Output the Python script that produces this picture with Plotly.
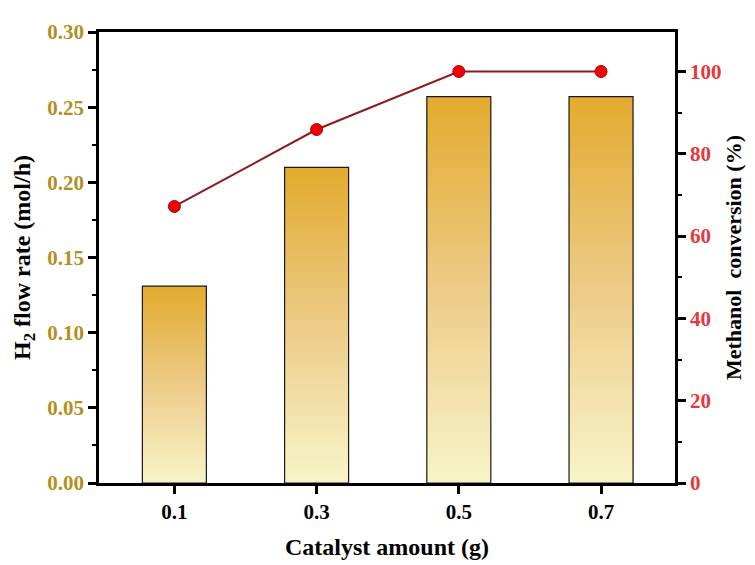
import plotly.graph_objects as go

categories = ["0.1", "0.3", "0.5", "0.7"]
h2_flow = [0.131, 0.210, 0.257, 0.257]
conversion = [67.2, 85.9, 100.0, 100.0]

left_ticks = [0.00, 0.05, 0.10, 0.15, 0.20, 0.25, 0.30]
right_ticks = [0, 20, 40, 60, 80, 100]

FONT = "Liberation Serif"
GOLD = "#B39021"
RED = "#E8383D"

# gradient stops from bar top (t=0) to bar bottom (t=1)
stops = [(0.0, (227, 171, 47)), (0.5, (237, 203, 136)), (1.0, (248, 244, 200))]


def grad_color(t):
    for (t0, c0), (t1, c1) in zip(stops[:-1], stops[1:]):
        if t0 <= t <= t1:
            f = (t - t0) / (t1 - t0)
            c = [round(a + (b - a) * f) for a, b in zip(c0, c1)]
            return "rgb(%d,%d,%d)" % tuple(c)
    return "rgb(%d,%d,%d)" % stops[-1][1]


fig = go.Figure()
N = 60
BW = 0.45
for k in range(N):
    frac = 1 - k / N
    fig.add_trace(go.Bar(
        x=categories, y=[v * frac for v in h2_flow], width=BW,
        marker=dict(color=grad_color(k / (N - 1)), line=dict(width=0)),
        showlegend=False, hoverinfo="skip",
    ))
fig.add_trace(go.Bar(
    x=categories, y=h2_flow, width=BW,
    marker=dict(color="rgba(0,0,0,0)", line=dict(color="#1a1a1a", width=1.2)),
    showlegend=False,
))
fig.add_trace(go.Scatter(
    x=categories, y=conversion, yaxis="y2", mode="lines+markers",
    line=dict(color="#8E1B1B", width=2),
    marker=dict(color="#F00000", size=12, line=dict(color="#B00000", width=1)),
    showlegend=False,
))

fig.update_layout(
    width=755, height=565, barmode="overlay",
    paper_bgcolor="white", plot_bgcolor="white",
    margin=dict(l=89, r=88, t=17, b=90),
    font=dict(family=FONT, color="black"),
    xaxis=dict(
        type="category", range=[-0.53, 3.52],
        showline=True, linecolor="black", linewidth=2.5, mirror=True,
        ticks="outside", ticklen=8, tickwidth=2.5, tickcolor="black",
        tickfont=dict(family=FONT, size=21, color="black", weight="bold"),
        title=dict(text="<b>Catalyst amount (g)</b>", font=dict(family=FONT, size=24), standoff=16),
        showgrid=False, zeroline=False,
    ),
    yaxis=dict(
        range=[0, 0.30], tickvals=left_ticks,
        ticktext=["%.2f" % v for v in left_ticks],
        showline=True, linecolor="black", linewidth=2.5,
        ticks="outside", ticklen=8, tickwidth=2.5, tickcolor="black",
        minor=dict(ticks="outside", ticklen=4, tickwidth=2, tickcolor="black", dtick=0.025, showgrid=False),
        tickfont=dict(family=FONT, size=21, color=GOLD, weight="bold"),
        title=dict(text="<b>H<sub>2</sub> flow rate (mol/h)</b>", font=dict(family=FONT, size=24), standoff=10),
        showgrid=False, zeroline=False,
    ),
    yaxis2=dict(
        overlaying="y", side="right", range=[0, 109.6], tickvals=right_ticks,
        showline=True, linecolor="black", linewidth=2.5,
        ticks="outside", ticklen=8, tickwidth=2.5, tickcolor="black",
        minor=dict(ticks="outside", ticklen=4, tickwidth=2, tickcolor="black", dtick=10, showgrid=False),
        tickfont=dict(family=FONT, size=21, color=RED, weight="bold"),
        title=dict(text="<b>Methanol\u00a0 conversion (%)</b>", font=dict(family=FONT, size=22), standoff=6),
        showgrid=False, zeroline=False,
    ),
)

fig.write_html("out.html")
